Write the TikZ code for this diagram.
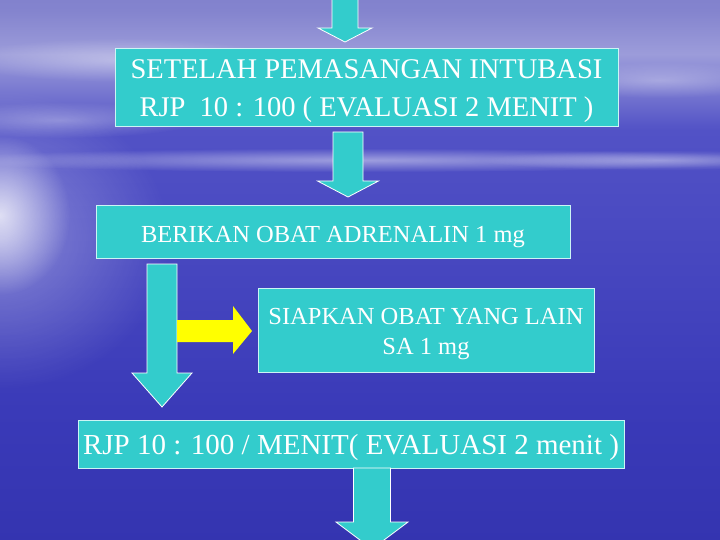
\documentclass[tikz,border=0pt]{standalone}
\usepackage{fontspec}
\setmainfont{Liberation Serif}
\usetikzlibrary{fadings}

\definecolor{boxcyan}{HTML}{33CCCC}
\definecolor{edgecyan}{HTML}{CCF5F5}
\definecolor{arrowyellow}{HTML}{FFFF00}
\definecolor{seadeep}{HTML}{2828A0}
\definecolor{seamid}{HTML}{3A3AB8}
\definecolor{seanear}{HTML}{5252C6}
\definecolor{horizon}{HTML}{9C9CDA}
\definecolor{skylow}{HTML}{8484CE}
\definecolor{skymid}{HTML}{6A6AC4}
\definecolor{skytop}{HTML}{5252B8}

% background: sky, horizon, sea
\pgfdeclareverticalshading{seasky}{100bp}{%
  color(0bp)=(seadeep);
  color(37bp)=(seamid);
  color(63bp)=(seanear);
  color(70bp)=(horizon);
  color(74bp)=(skylow);
  color(87bp)=(skymid);
  color(100bp)=(skytop)}

\tikzfading[name=softglow, inner color=transparent!0, outer color=transparent!100]

\tikzset{
  stepbox/.style={draw=edgecyan, line width=0.8pt, fill=boxcyan, text=white,
    inner sep=0pt, align=center},
  blockarrow/.style={draw=white, line width=0.8pt, fill=boxcyan},
  sidearrow/.style={draw=none, fill=arrowyellow},
  haze/.style={fill=white, path fading=softglow, fit fading=true}
}

% down pointing block arrow: x, top, head base, tip, half shaft, half head
\newcommand{\blockdown}[6]{%
  \draw[blockarrow] (#1-#5,#2) -- (#1+#5,#2) -- (#1+#5,#3) -- (#1+#6,#3)
    -- (#1,#4) -- (#1-#6,#3) -- (#1-#5,#3) -- cycle;}
% pushes a box's text down a little
\newcommand{\lift}[1]{\rule{0pt}{#1}}

\begin{document}
\begin{tikzpicture}[x=1pt, y=-1pt]
    \path[use as bounding box, clip] (0,0) rectangle (720,540);
    \shade[shading=seasky] (0,0) rectangle (720,540);

    % clouds and the glow on the water
    \fill[haze, opacity=0.35] (120,60) ellipse (160 and 22);
    \fill[haze, opacity=0.30] (60,120) ellipse (140 and 18);
    \fill[haze, opacity=0.30] (660,80) ellipse (120 and 18);
    \fill[haze, opacity=0.35] (660,160) ellipse (180 and 10);
    \fill[haze, opacity=0.45] (360,160) ellipse (420 and 12);
    \fill[haze, opacity=0.75] (0,215) ellipse (70 and 80);
    \fill[haze, opacity=0.35] (0,240) ellipse (170 and 150);

    % boxes
    \node[stepbox, minimum width=503pt, minimum height=78pt,
      font=\fontsize{28.5}{38}\selectfont] (setelah) at (366.5,87)
      {\lift{28pt}SETELAH PEMASANGAN INTUBASI\\RJP\ \ 10 : 100 ( EVALUASI 2 MENIT )};
    \node[stepbox, minimum width=474pt, minimum height=53pt,
      font=\fontsize{24.5}{30}\selectfont] (adrenalin) at (333,231.5)
      {\lift{28pt}BERIKAN OBAT ADRENALIN 1 mg};
    \node[stepbox, minimum width=336pt, minimum height=84pt,
      font=\fontsize{24.5}{30}\selectfont] (siapkan) at (426,330)
      {\lift{24pt}SIAPKAN OBAT YANG LAIN\\SA 1 mg};
    \node[stepbox, minimum width=546pt, minimum height=48pt,
      font=\fontsize{29}{34}\selectfont] (evaluasi) at (351,444)
      {\lift{28pt}RJP 10 : 100 / MENIT( EVALUASI 2 menit )};

    % arrows
    \blockdown{345}{-2}{28}{42}{13}{27}
    \blockdown{348}{132}{181}{197}{15}{30.5}
    \blockdown{162}{264}{373}{407}{15}{30}
    \blockdown{372}{468}{522}{549}{18.5}{36}
    \fill[sidearrow] (177,320) -- (233,320) -- (233,306) -- (252,331)
      -- (233,354) -- (233,342) -- (177,342) -- cycle;
\end{tikzpicture}
\end{document}
